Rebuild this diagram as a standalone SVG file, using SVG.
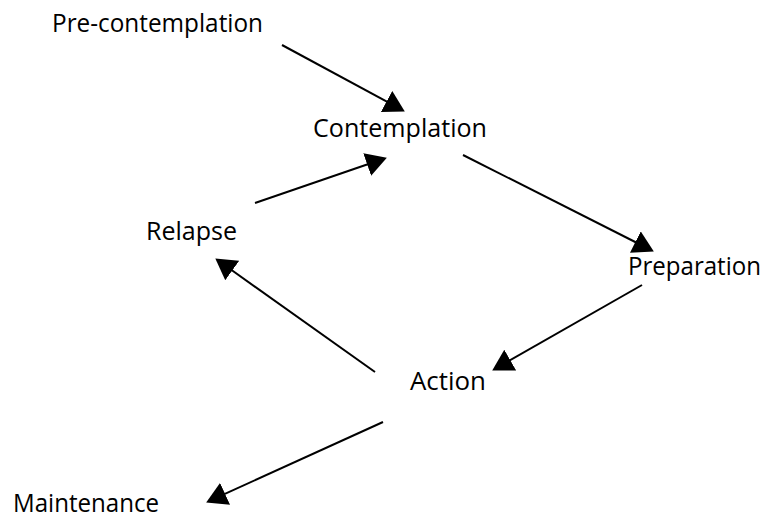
<svg xmlns="http://www.w3.org/2000/svg" width="766" height="520" viewBox="0 0 766 520">
<style>
text{font-family:"Open Sans","Noto Sans",sans-serif;font-size:25px;fill:#000}
.c line{stroke:#000;stroke-width:2;fill:none}
</style>
<defs>
<marker id="ah" markerUnits="userSpaceOnUse" markerWidth="22" markerHeight="24" viewBox="0 0 20 22" refX="9" refY="11" orient="auto">
<path d="M0,0 L19,11 L0,22 z" fill="#000"/>
</marker>
</defs>
<rect width="766" height="520" fill="#fff"/>
<g class="c" id="connectors">
<line x1="282" y1="45" x2="395.2" y2="106.2" marker-end="url(#ah)"/>
<line x1="255" y1="203" x2="376.5" y2="161.3" marker-end="url(#ah)"/>
<line x1="463" y1="155" x2="644.1" y2="246.5" marker-end="url(#ah)"/>
<line x1="642" y1="285" x2="501.7" y2="365" marker-end="url(#ah)"/>
<line x1="375" y1="372" x2="224.2" y2="264.8" marker-end="url(#ah)"/>
<line x1="383" y1="422" x2="216.1" y2="497.9" marker-end="url(#ah)"/>
</g>
<g id="precontemplation"><text x="52" y="32" textLength="211" lengthAdjust="spacingAndGlyphs">Pre-contemplation</text></g>
<g id="contemplation"><text x="313" y="137" textLength="174" lengthAdjust="spacingAndGlyphs">Contemplation</text></g>
<g id="relapse"><text x="146" y="240" textLength="91" lengthAdjust="spacingAndGlyphs">Relapse</text></g>
<g id="preparation"><text x="628" y="275" textLength="133" lengthAdjust="spacingAndGlyphs">Preparation</text></g>
<g id="action"><text x="410" y="390" textLength="76" lengthAdjust="spacingAndGlyphs">Action</text></g>
<g id="maintenance"><text x="13" y="512" textLength="146" lengthAdjust="spacingAndGlyphs">Maintenance</text></g>
</svg>
